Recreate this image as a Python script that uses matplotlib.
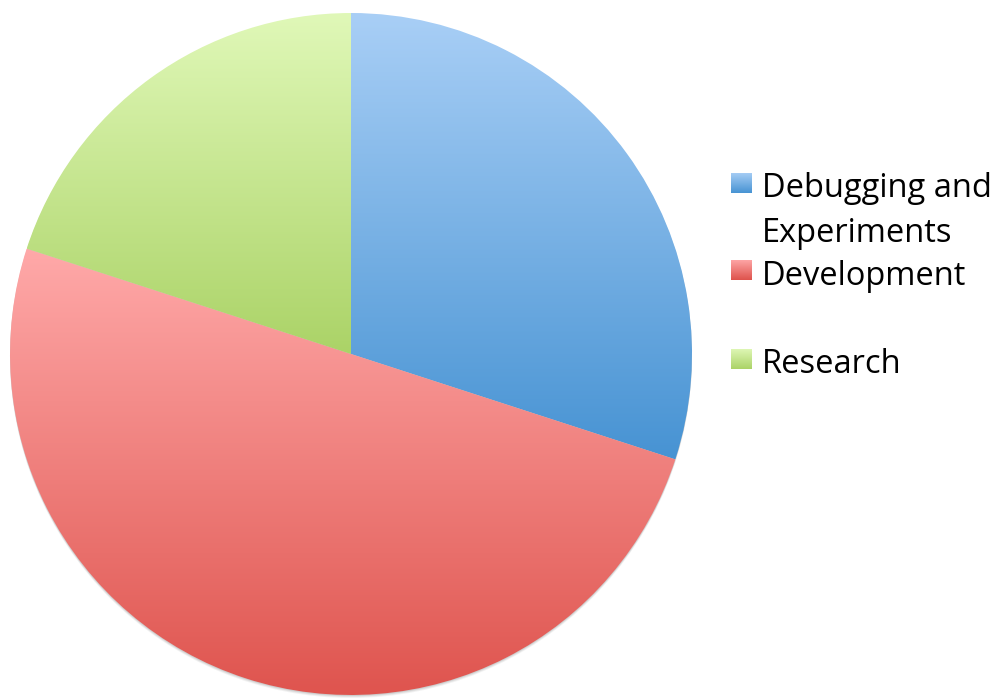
import numpy as np
import matplotlib
matplotlib.use("Agg")
import matplotlib.pyplot as plt
from matplotlib.colors import LinearSegmentedColormap
from matplotlib.patches import Rectangle, Circle

labels = ["Debugging and\nExperiments", "Development", "Research"]
shares = [30, 50, 20]
top_colors = ["#a9cff6", "#ffa9a9", "#e0f8b8"]
bottom_colors = ["#4793d3", "#de524c", "#abd367"]

W, H = 1003, 698
fig = plt.figure(figsize=(W / 100, H / 100), dpi=100)
ax = fig.add_axes([0, 0, 1, 1])

cx, cy, r = 351, H - 354, 341

# soft shadow under the pie
for k, a in [(3, 0.10), (2, 0.15), (1, 0.2)]:
    ax.add_patch(Circle((cx, cy - k), r, color="#808080", alpha=a, lw=0, zorder=0))

wedges, _ = ax.pie(shares, center=(cx, cy), radius=r, startangle=90,
                   counterclock=False, frame=True,
                   wedgeprops=dict(linewidth=0, facecolor="none"))


def gradient_fill(patch, c_top, c_bot, x0, x1, y0, y1, z=2):
    cmap = LinearSegmentedColormap.from_list("g", [c_bot, c_top])
    grad = np.linspace(0, 1, 256).reshape(-1, 1)
    im = ax.imshow(grad, cmap=cmap, extent=[x0, x1, y0, y1], origin="lower",
                   aspect="auto", interpolation="bilinear", zorder=z)
    im.set_clip_path(patch)


for w, ct, cb in zip(wedges, top_colors, bottom_colors):
    w.set_zorder(3)
    verts = w.get_path().vertices
    gradient_fill(w, ct, cb, verts[:, 0].min(), verts[:, 0].max(),
                  verts[:, 1].min(), verts[:, 1].max())

# legend
font = "Open Sans"
sq = 21
entries_y = [H - 183, H - 270, H - 359]
text_base = [H - 197, H - 285, H - 373]
for lab, ct, cb, yc, yb in zip(labels, top_colors, bottom_colors, entries_y, text_base):
    rect = Rectangle((731, yc - sq / 2), sq, sq, facecolor="none", lw=0)
    ax.add_patch(rect)
    gradient_fill(rect, ct, cb, 731, 731 + sq, yc - sq / 2, yc + sq / 2, z=4)
    for i, ln in enumerate(lab.split("\n")):
        ax.text(762, yb - i * 45, ln, fontsize=23.5, family=font,
                va="baseline", ha="left", color="black")

ax.set_xlim(0, W)
ax.set_ylim(0, H)
ax.axis("off")
fig.savefig("out.png", dpi=100)
